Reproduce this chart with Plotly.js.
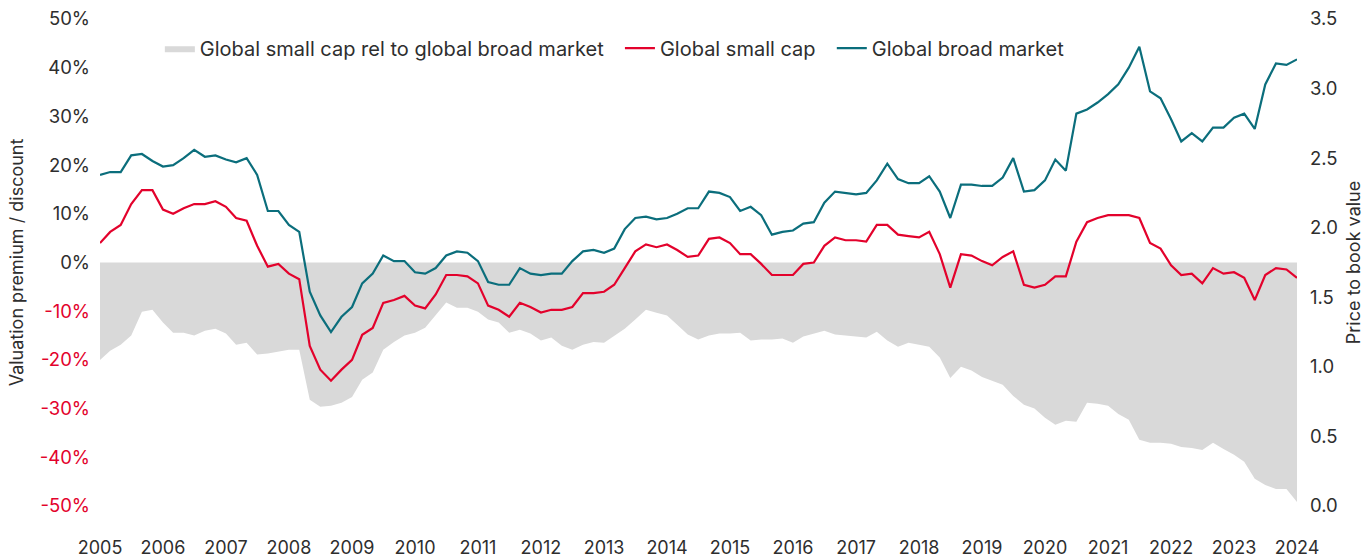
<!DOCTYPE html>
<html>
<head>
<meta charset="utf-8">
<script src="https://cdn.plot.ly/plotly-3.0.1.min.js"></script>
<style>html,body{margin:0;padding:0;background:#fff;}#chart{width:1364px;height:558px;}</style>
</head>
<body>
<div id="chart"></div>
<script>
// Bi-monthly observation dates
const dates = [
 '2005-01','2005-03','2005-05','2005-07','2005-09','2005-11',
 '2006-01','2006-03','2006-05','2006-07','2006-09','2006-11',
 '2007-01','2007-03','2007-05','2007-07','2007-09','2007-11',
 '2008-01','2008-03','2008-05','2008-07','2008-09','2008-11',
 '2009-01','2009-03','2009-05','2009-07','2009-09','2009-11',
 '2010-01','2010-03','2010-05','2010-07','2010-09','2010-11',
 '2011-01','2011-03','2011-05','2011-07','2011-09','2011-11',
 '2012-01','2012-03','2012-05','2012-07','2012-09','2012-11',
 '2013-01','2013-03','2013-05','2013-07','2013-09','2013-11',
 '2014-01','2014-03','2014-05','2014-07','2014-09','2014-11',
 '2015-01','2015-03','2015-05','2015-07','2015-09','2015-11',
 '2016-01','2016-03','2016-05','2016-07','2016-09','2016-11',
 '2017-01','2017-03','2017-05','2017-07','2017-09','2017-11',
 '2018-01','2018-03','2018-05','2018-07','2018-09','2018-11',
 '2019-01','2019-03','2019-05','2019-07','2019-09','2019-11',
 '2020-01','2020-03','2020-05','2020-07','2020-09','2020-11',
 '2021-01','2021-03','2021-05','2021-07','2021-09','2021-11',
 '2022-01','2022-03','2022-05','2022-07','2022-09','2022-11',
 '2023-01','2023-03','2023-05','2023-07','2023-09','2023-11',
 '2024-01'
];

// Global broad market price-to-book (right axis)
const broadMarket = [
 2.38, 2.40, 2.40, 2.52, 2.53, 2.48, 2.44, 2.45, 2.50, 2.56,
 2.51, 2.52, 2.49, 2.47, 2.50, 2.38, 2.12, 2.12, 2.02, 1.97,
 1.54, 1.37, 1.25, 1.36, 1.43, 1.60, 1.67, 1.80, 1.76, 1.76,
 1.68, 1.67, 1.71, 1.80, 1.83, 1.82, 1.76, 1.61, 1.59, 1.59,
 1.71, 1.67, 1.66, 1.67, 1.67, 1.76, 1.83, 1.84, 1.82, 1.85,
 1.99, 2.07, 2.08, 2.06, 2.07, 2.10, 2.14, 2.14, 2.26, 2.25,
 2.22, 2.12, 2.15, 2.09, 1.95, 1.97, 1.98, 2.03, 2.04, 2.18,
 2.26, 2.25, 2.24, 2.25, 2.34, 2.46, 2.35, 2.32, 2.32, 2.37,
 2.26, 2.07, 2.31, 2.31, 2.30, 2.30, 2.36, 2.50, 2.26, 2.27,
 2.34, 2.49, 2.41, 2.82, 2.85, 2.90, 2.96, 3.03, 3.15, 3.30,
 2.98, 2.93, 2.78, 2.62, 2.68, 2.62, 2.72, 2.72, 2.79, 2.82,
 2.71, 3.03, 3.18, 3.17, 3.21
];

// Global small cap price-to-book (right axis)
const smallCap = [
 1.89, 1.97, 2.02, 2.17, 2.27, 2.27, 2.13, 2.10, 2.14, 2.17,
 2.17, 2.19, 2.15, 2.07, 2.05, 1.87, 1.72, 1.74, 1.67, 1.63,
 1.15, 0.98, 0.90, 0.98, 1.05, 1.23, 1.28, 1.46, 1.48, 1.51,
 1.44, 1.42, 1.52, 1.66, 1.66, 1.65, 1.60, 1.44, 1.41, 1.36,
 1.46, 1.43, 1.39, 1.41, 1.41, 1.43, 1.53, 1.53, 1.54, 1.59,
 1.71, 1.83, 1.88, 1.86, 1.88, 1.84, 1.79, 1.80, 1.92, 1.93,
 1.89, 1.81, 1.81, 1.74, 1.66, 1.66, 1.66, 1.74, 1.75, 1.87,
 1.93, 1.91, 1.91, 1.90, 2.02, 2.02, 1.95, 1.94, 1.93, 1.97,
 1.81, 1.57, 1.81, 1.80, 1.76, 1.73, 1.79, 1.83, 1.59, 1.57,
 1.59, 1.65, 1.65, 1.90, 2.04, 2.07, 2.09, 2.09, 2.09, 2.07,
 1.89, 1.85, 1.73, 1.66, 1.67, 1.60, 1.71, 1.67, 1.68, 1.64,
 1.48, 1.66, 1.71, 1.70, 1.64
];

// Small cap relative to broad market, % premium / discount (left axis)
const relative = [
 -20.0, -18.1, -16.9, -15.0, -10.1, -9.7, -12.3, -14.4, -14.4, -15.0,
 -14.0, -13.6, -14.6, -16.9, -16.5, -18.9, -18.7, -18.3, -17.9, -17.9,
 -28.2, -29.6, -29.4, -28.8, -27.6, -24.1, -22.6, -17.9, -16.3, -15.0,
 -14.4, -13.4, -10.7, -8.2, -9.3, -9.3, -10.1, -11.7, -12.3, -14.4,
 -13.8, -14.6, -16.0, -15.4, -17.1, -17.9, -16.9, -16.3, -16.5, -15.0,
 -13.6, -11.7, -9.7, -10.3, -10.9, -12.8, -14.8, -15.8, -15.0, -14.6,
 -14.6, -14.4, -16.0, -15.8, -15.8, -15.6, -16.5, -15.2, -14.6, -14.0,
 -14.8, -15.0, -15.2, -15.4, -14.2, -16.0, -17.3, -16.5, -16.9, -17.3,
 -19.5, -23.7, -21.4, -22.2, -23.5, -24.3, -25.1, -27.4, -29.2, -30.0,
 -31.9, -33.3, -32.5, -32.7, -28.8, -29.0, -29.4, -31.1, -32.3, -36.4,
 -37.0, -37.0, -37.2, -37.9, -38.1, -38.5, -37.0, -38.3, -39.5, -40.9,
 -44.4, -45.7, -46.5, -46.5, -49.2
];

const seriesNames = ['Global small cap rel to global broad market', 'Global small cap', 'Global broad market'];

const leftTickVals = [50, 40, 30, 20, 10, 0, -10, -20, -30, -40, -50];
const leftTickLabels = ['50%', '40%', '30%', '20%', '10%', '0%', '-10%', '-20%', '-30%', '-40%', '-50%'];
const rightTickVals = [0, 0.5, 1.0, 1.5, 2.0, 2.5, 3.0, 3.5];
const rightTickLabels = ['0.0', '0.5', '1.0', '1.5', '2.0', '2.5', '3.0', '3.5'];

const RED = '#E3022C';
const TEAL = '#0B6E7C';
const GREY = '#D9D9D9';
const TEXT = '#2E2E2E';
const FONT = 'Inter, "Noto Sans", sans-serif';
const GAP = '\u00a0\u00a0';

const leftTickText = leftTickVals.map((v, i) =>
  v < 0 ? '<span style="color:' + RED + '">' + leftTickLabels[i] + '</span>' : leftTickLabels[i]);

const traces = [
  {
    x: dates, y: relative, name: seriesNames[0] + GAP, type: 'scatter', mode: 'lines',
    fill: 'tozeroy', fillcolor: GREY, line: {width: 0, color: GREY}, yaxis: 'y',
    hoverinfo: 'skip'
  },
  {
    x: dates, y: smallCap, name: seriesNames[1] + GAP, type: 'scatter', mode: 'lines',
    line: {color: RED, width: 2.2}, yaxis: 'y2'
  },
  {
    x: dates, y: broadMarket, name: seriesNames[2], type: 'scatter', mode: 'lines',
    line: {color: TEAL, width: 2.2}, yaxis: 'y2'
  }
];

const layout = {
  width: 1364, height: 558,
  margin: {l: 100, r: 67, t: 19, b: 52},
  paper_bgcolor: '#fff', plot_bgcolor: '#fff',
  font: {family: FONT, size: 18, color: TEXT},
  showlegend: true,
  legend: {
    orientation: 'h', x: 0.05, xanchor: 'left', y: 0.94, yanchor: 'middle',
    bgcolor: 'rgba(0,0,0,0)', font: {family: FONT, size: 20, color: TEXT},
    itemwidth: 30, traceorder: 'normal'
  },
  xaxis: {
    type: 'date', range: ['2005-01-01', '2024-01-01'],
    tick0: '2005-01-01', dtick: 'M12', tickformat: '%Y',
    showgrid: false, zeroline: false, showline: false,
    ticks: '', ticklabelstandoff: 29, automargin: false,
    tickfont: {family: FONT, size: 18, color: TEXT}
  },
  yaxis: {
    range: [-50, 50], tickvals: leftTickVals, ticktext: leftTickText,
    showgrid: false, zeroline: false, showline: false, ticks: '',
    ticklabelstandoff: 9, automargin: false,
    tickfont: {family: FONT, size: 18.5, color: TEXT},
    title: {text: 'Valuation premium / discount', standoff: 11, font: {family: FONT, size: 18, color: TEXT}}
  },
  yaxis2: {
    range: [0, 3.5], overlaying: 'y', side: 'right',
    tickvals: rightTickVals, ticktext: rightTickLabels,
    showgrid: false, zeroline: false, showline: false, ticks: '',
    ticklabelstandoff: 12, automargin: false,
    tickfont: {family: FONT, size: 18.5, color: TEXT},
    title: {text: 'Price to book value', standoff: 10, font: {family: FONT, size: 18, color: TEXT}}
  }
};

Plotly.newPlot('chart', traces, layout, {displayModeBar: false, staticPlot: true});
</script>
</body>
</html>
